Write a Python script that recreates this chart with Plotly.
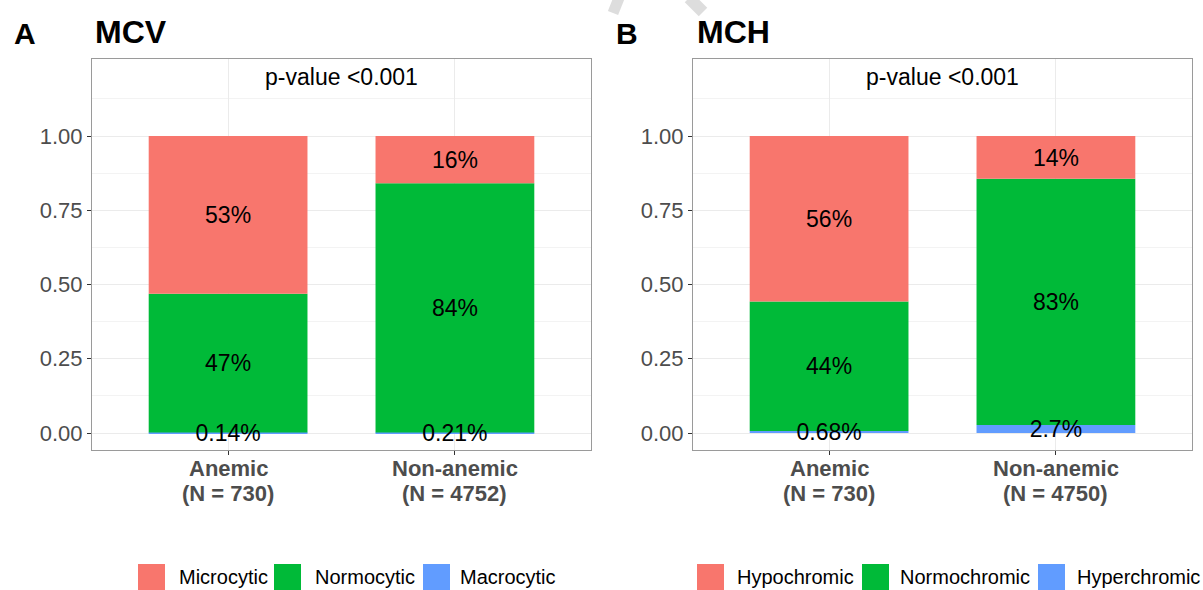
import numpy as np
import plotly.graph_objects as go

# ---------------- data ----------------
groups = ["Anemic", "Non-anemic"]

mcv_n = [730, 4752]
mcv_categories = ["Microcytic", "Normocytic", "Macrocytic"]
mcv_micro = [0.5315, 0.1593]
mcv_normo = [0.4671, 0.8386]
mcv_macro = [0.0014, 0.0021]
mcv_micro_lbl = ["53%", "16%"]
mcv_normo_lbl = ["47%", "84%"]
mcv_macro_lbl = ["0.14%", "0.21%"]

mch_n = [730, 4750]
mch_categories = ["Hypochromic", "Normochromic", "Hyperchromic"]
mch_hypo = [0.5575, 0.1440]
mch_normo = [0.4357, 0.8291]
mch_hyper = [0.0068, 0.0269]
mch_hypo_lbl = ["56%", "14%"]
mch_normo_lbl = ["44%", "83%"]
mch_hyper_lbl = ["0.68%", "2.7%"]

y_ticks = [0, 0.25, 0.5, 0.75, 1.0]
y_ticklabels = ["0.00", "0.25", "0.50", "0.75", "1.00"]
pvalue_text = "p-value <0.001"

# ---------------- style ----------------
W, H = 1203, 590
FONT = "Liberation Sans, Arial, sans-serif"
RED, GREEN, BLUE = "#F8766D", "#00BA38", "#619CFF"
colors = [RED, GREEN, BLUE]


def px(x):
    return x / W


def py(y):
    return 1 - y / H


fig = go.Figure()
xpos = np.arange(len(groups))

panels = [
    ("x", "y", [mcv_micro, mcv_normo, mcv_macro], [mcv_micro_lbl, mcv_normo_lbl, mcv_macro_lbl], mcv_categories, mcv_n),
    ("x2", "y2", [mch_hypo, mch_normo, mch_hyper], [mch_hypo_lbl, mch_normo_lbl, mch_hyper_lbl], mch_categories, mch_n),
]

annotations = []
shapes = []

for xa, ya, series, labels, cats, ns in panels:
    # stack from bottom: third category (blue), normal (green), first (red)
    order = [2, 1, 0]
    base = np.zeros(len(groups))
    for idx in order:
        vals = np.array(series[idx], dtype=float)
        fig.add_trace(go.Bar(
            x=xpos, y=vals, base=base.copy(), width=0.7,
            marker=dict(color=colors[idx], line=dict(width=0)),
            name=cats[idx], showlegend=False, xaxis=xa, yaxis=ya,
            hoverinfo="name+y",
        ))
        centers = base + vals / 2
        fig.add_trace(go.Scatter(
            x=xpos, y=centers - 0.008, mode="text", text=labels[idx],
            textfont=dict(size=23, color="black", family=FONT),
            textposition="middle center", showlegend=False,
            hoverinfo="skip", xaxis=xa, yaxis=ya, cliponaxis=False,
        ))
        base = base + vals
    # p-value annotation
    fig.add_trace(go.Scatter(
        x=[0.5], y=[1.19], mode="text", text=[pvalue_text],
        textfont=dict(size=23, color="black", family=FONT),
        showlegend=False, hoverinfo="skip", xaxis=xa, yaxis=ya, cliponaxis=False,
    ))
    # category labels (two lines, ggplot-like tight spacing)
    for g, n, xv in zip(groups, ns, xpos):
        for line, yy in [(f"<b>{g}</b>", 468), (f"<b>(N = {n})</b>", 493)]:
            annotations.append(dict(text=line, x=xv, xref=xa, y=py(yy), yref="paper",
                                    xanchor="center", yanchor="middle", showarrow=False,
                                    font=dict(size=22, color="#4d4d4d", family=FONT)))

ydom = [py(450), py(59)]
axis_common = dict(
    showline=True, mirror=True, linecolor="#9a9a9a", linewidth=1,
    ticks="outside", ticklen=4, tickwidth=1, tickcolor="#333333",
    tickfont=dict(size=22, color="#4d4d4d", family=FONT),
    showgrid=True, gridcolor="#ebebeb", gridwidth=1, zeroline=False,
)

def xaxis_cfg(dom, anchor):
    return dict(
        axis_common, domain=dom, range=[-0.6, 1.6], anchor=anchor,
        tickvals=list(xpos), ticktext=["", ""], showticklabels=False,
    )

def yaxis_cfg(anchor):
    return dict(
        axis_common, domain=ydom, range=[-0.0572, 1.2593], anchor=anchor,
        tickvals=y_ticks, ticktext=y_ticklabels,
        minor=dict(tickvals=[0.125, 0.375, 0.625, 0.875, 1.125], showgrid=True,
                   gridcolor="#f3f3f3", gridwidth=1, ticks=""),
    )

fig.update_layout(
    width=W, height=H, autosize=False,
    margin=dict(l=0, r=0, t=0, b=0),
    paper_bgcolor="white", plot_bgcolor="white",
    barmode="overlay", showlegend=False,
    font=dict(family=FONT, color="black"),
    xaxis=xaxis_cfg([px(92), px(591)], "y"),
    xaxis2=xaxis_cfg([px(693), px(1192)], "y2"),
    yaxis=yaxis_cfg("x"),
    yaxis2=yaxis_cfg("x2"),
)

# panel letters and titles
for letter, lx, title, tx in [("A", 12, "MCV", 93), ("B", 614, "MCH", 695)]:
    annotations.append(dict(text=f"<b>{letter}</b>", x=px(lx), y=py(34), xref="paper", yref="paper",
                            xanchor="left", yanchor="middle", showarrow=False,
                            font=dict(size=30, color="black", family=FONT)))
    annotations.append(dict(text=f"<b>{title}</b>", x=px(tx), y=py(32), xref="paper", yref="paper",
                            xanchor="left", yanchor="middle", showarrow=False,
                            font=dict(size=32, color="black", family=FONT)))

# custom legends (ggplot-style keys)
legend_items = [
    (mcv_categories, [138, 274, 423], [177, 313, 458]),
    (mch_categories, [697, 862, 1038], [735, 898, 1075]),
]
for cats, keyx, textx in legend_items:
    for i, cat in enumerate(cats):
        shapes.append(dict(type="rect", xref="paper", yref="paper",
                           x0=px(keyx[i]), x1=px(keyx[i] + 27), y0=py(590), y1=py(564),
                           fillcolor=colors[i], line=dict(width=0)))
        annotations.append(dict(text=cat, x=px(textx[i]), y=py(577), xref="paper", yref="paper",
                                xanchor="left", yanchor="middle", showarrow=False,
                                font=dict(size=20, color="black", family=FONT)))

# faint grey arc fragments at the top (scan artifact)
shapes.append(dict(type="line", xref="paper", yref="paper", x0=px(619), y0=py(-2), x1=px(613), y1=py(13),
                   line=dict(color="#dddddd", width=11)))
shapes.append(dict(type="line", xref="paper", yref="paper", x0=px(689), y0=py(-2), x1=px(703), y1=py(12),
                   line=dict(color="#dddddd", width=12)))

fig.update_layout(annotations=annotations, shapes=shapes)

fig.write_html("out.html", config={"displayModeBar": False},
               post_script="document.body.style.margin='0px';document.body.style.overflow='hidden';")
